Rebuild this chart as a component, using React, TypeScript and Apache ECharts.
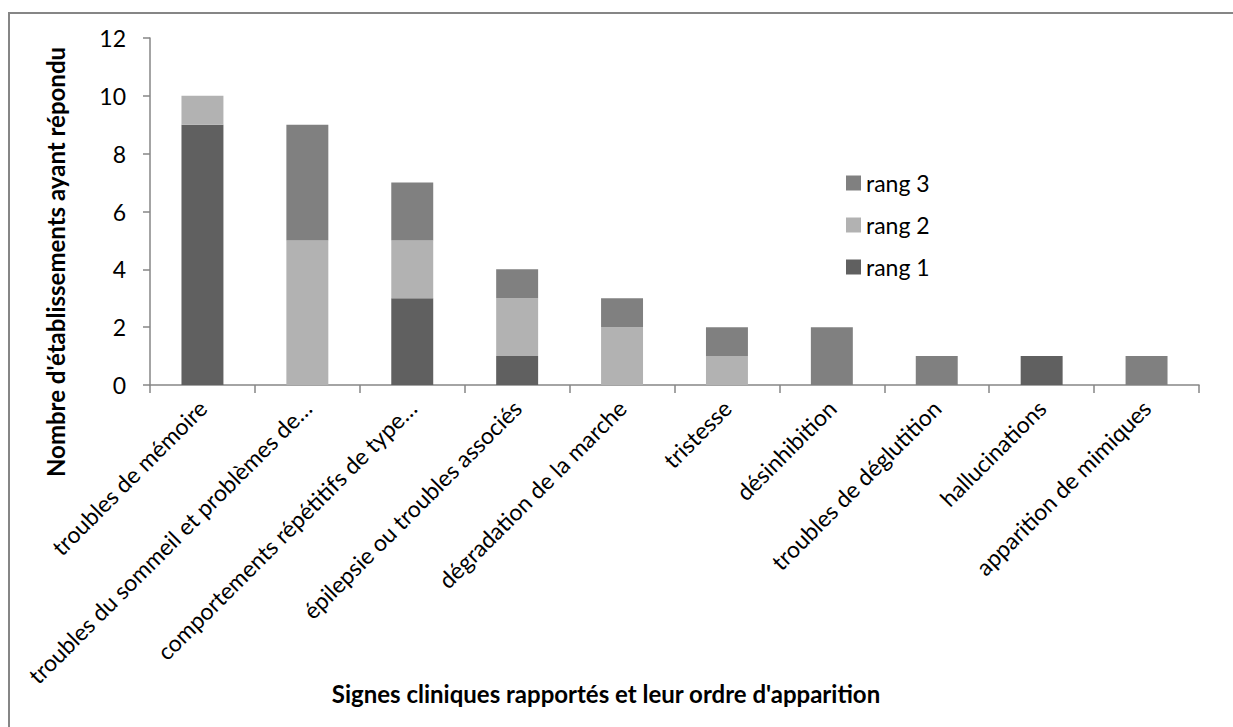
import React, { useEffect, useRef } from "react";
import * as echarts from "echarts";

const categories = [
  "troubles de mémoire",
  "troubles du sommeil et problèmes de…",
  "comportements répétitifs de type…",
  "épilepsie ou troubles associés",
  "dégradation de la marche",
  "tristesse",
  "désinhibition",
  "troubles de déglutition",
  "hallucinations",
  "apparition de mimiques",
];
const rang1 = [9, 0, 3, 1, 0, 0, 0, 0, 1, 0];
const rang2 = [1, 5, 2, 2, 2, 1, 0, 0, 0, 0];
const rang3 = [0, 4, 2, 1, 1, 1, 2, 1, 0, 1];
const yTicks = [0, 2, 4, 6, 8, 10, 12];

const FONT = "Lato, 'Open Sans', sans-serif";
const AXIS = "#868686";

export default function App() {
  const ref = useRef<HTMLDivElement>(null);
  useEffect(() => {
    if (!ref.current) return;
    const chart = echarts.init(ref.current, null, { renderer: "svg" });
    const mk = (name: string, data: number[], color: string) => ({
      name,
      type: "bar",
      stack: "s",
      data,
      barWidth: "40%",
      itemStyle: { color },
      emphasis: { disabled: true },
    });
    chart.setOption({
      animation: false,
      backgroundColor: "#ffffff",
      textStyle: { fontFamily: FONT },
      grid: { left: 150, top: 38, right: 34, bottom: 342, containLabel: false },
      legend: {
        orient: "vertical",
        left: 841,
        top: 164,
        itemWidth: 15,
        itemHeight: 15,
        itemGap: 14,
        icon: "rect",
        data: ["rang 3", "rang 2", "rang 1"],
        textStyle: { fontSize: 23, lineHeight: 28, color: "#000", fontFamily: FONT },
      },
      xAxis: {
        type: "category",
        data: categories,
        axisLine: { show: true, lineStyle: { color: AXIS, width: 1.5 } },
        axisTick: { show: true, alignWithLabel: false, length: 8, lineStyle: { color: AXIS, width: 1.5 } },
        axisLabel: {
          rotate: 45,
          interval: 0,
          margin: 19,
          fontSize: 23,
          color: "#000",
          fontFamily: FONT,
        },
      },
      yAxis: {
        type: "value",
        min: yTicks[0],
        max: yTicks[yTicks.length - 1],
        interval: 2,
        axisLine: { show: true, lineStyle: { color: AXIS, width: 1.5 } },
        axisTick: { show: true, inside: false, length: 7, lineStyle: { color: AXIS, width: 1.5 } },
        splitLine: { show: false },
        axisLabel: { fontSize: 23, color: "#000", margin: 24, fontFamily: FONT },
      },
      graphic: [
        {
          type: "rect",
          shape: { x: 9, y: 13, width: 1260, height: 760 },
          style: { fill: "none", stroke: AXIS, lineWidth: 2 },
          silent: true,
        },
        {
          type: "text",
          x: 606,
          y: 693,
          style: {
            text: "Signes cliniques rapportés et leur ordre d'apparition",
            fontSize: 24,
            fontWeight: "bold",
            fill: "#000",
            fontFamily: FONT,
            align: "center",
            verticalAlign: "middle",
          },
        },
        {
          type: "text",
          x: 55,
          y: 262,
          rotation: Math.PI / 2,
          style: {
            text: "Nombre d'établissements ayant répondu",
            fontSize: 24,
            fontWeight: "bold",
            fill: "#000",
            fontFamily: FONT,
            align: "center",
            verticalAlign: "middle",
          },
        },
      ],
      series: [
        mk("rang 1", rang1, "#606060"),
        mk("rang 2", rang2, "#b2b2b2"),
        mk("rang 3", rang3, "#808080"),
      ],
    });
    return () => chart.dispose();
  }, []);
  return (
    <div
      ref={ref}
      style={{ position: "absolute", left: 0, top: 0, width: 1233, height: 727, background: "#fff" }}
    />
  );
}
